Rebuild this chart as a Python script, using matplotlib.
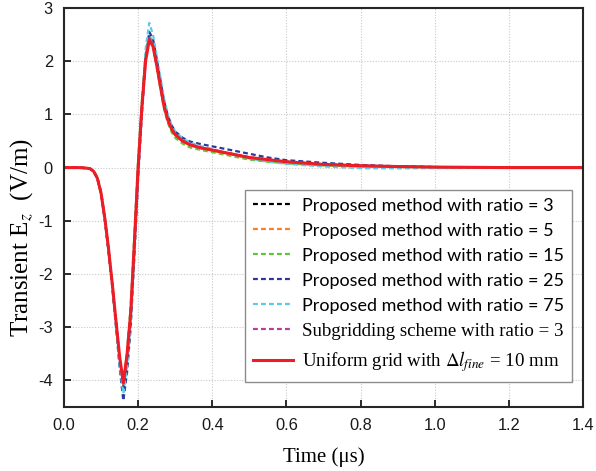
import matplotlib.pyplot as plt
from matplotlib.ticker import MultipleLocator

plt.rcParams['axes.unicode_minus'] = False
plt.rcParams['mathtext.fontset'] = 'stix'

# time axis (us) shared by all runs
t = [0.00, 0.02, 0.04, 0.06, 0.07, 0.08, 0.09, 0.10, 0.11, 0.12, 0.13, 0.14,
     0.15, 0.16, 0.17, 0.18, 0.19, 0.20, 0.21, 0.22, 0.23, 0.24, 0.25, 0.26,
     0.27, 0.28, 0.29, 0.30, 0.32, 0.34, 0.37, 0.40, 0.45, 0.50, 0.55, 0.60,
     0.70, 0.80, 0.90, 1.00, 1.10, 1.20, 1.30, 1.40]

# transient Ez (V/m)
ez_ratio3 = [0, 0, 0, -0.01, -0.02, -0.07, -0.20, -0.48, -0.96, -1.54, -2.19, -2.90,
             -3.60, -4.12, -3.58, -2.76, -1.42, 0.00, 1.14, 2.05, 2.46, 2.32, 1.95, 1.55,
             1.16, 0.90, 0.73, 0.62, 0.50, 0.43, 0.37, 0.33, 0.26, 0.19, 0.15, 0.11,
             0.06, 0.035, 0.02, 0.01, 0.005, 0, 0, 0]
ez_ratio5 = [0, 0, 0, -0.01, -0.02, -0.07, -0.20, -0.48, -0.96, -1.53, -2.18, -2.89,
             -3.58, -4.10, -3.56, -2.74, -1.40, 0.02, 1.15, 2.05, 2.45, 2.30, 1.94, 1.54,
             1.15, 0.89, 0.72, 0.61, 0.49, 0.42, 0.36, 0.32, 0.25, 0.18, 0.14, 0.10,
             0.05, 0.03, 0.015, 0.01, 0.005, 0, 0, 0]
ez_ratio15 = [0, 0, 0, -0.01, -0.02, -0.07, -0.20, -0.48, -0.96, -1.53, -2.18, -2.90,
              -3.60, -4.08, -3.45, -2.58, -1.20, 0.15, 1.25, 2.12, 2.50, 2.30, 1.90, 1.48,
              1.10, 0.84, 0.67, 0.56, 0.45, 0.38, 0.33, 0.29, 0.22, 0.15, 0.11, 0.08,
              0.04, 0.02, 0.01, 0.005, 0, 0, 0, 0]
ez_ratio25 = [0, 0, 0, -0.01, -0.02, -0.07, -0.20, -0.47, -0.97, -1.56, -2.22, -2.97,
              -3.76, -4.38, -3.86, -3.00, -1.65, -0.20, 1.00, 2.00, 2.55, 2.42, 2.05, 1.65,
              1.25, 0.98, 0.80, 0.68, 0.56, 0.49, 0.44, 0.40, 0.33, 0.26, 0.19, 0.14,
              0.09, 0.05, 0.025, 0.01, 0.005, 0, 0, 0]
ez_ratio75 = [0, 0, 0, -0.01, -0.02, -0.07, -0.20, -0.47, -0.97, -1.56, -2.21, -2.95,
              -3.70, -4.25, -3.76, -2.90, -1.55, -0.10, 1.10, 2.22, 2.72, 2.50, 2.10, 1.70,
              1.30, 1.00, 0.80, 0.68, 0.55, 0.47, 0.40, 0.35, 0.25, 0.17, 0.11, 0.07,
              0.02, -0.01, -0.015, -0.01, -0.005, 0, 0, 0]
ez_subgrid3 = [0, 0, 0, -0.01, -0.02, -0.07, -0.20, -0.48, -0.95, -1.53, -2.18, -2.88,
               -3.57, -4.08, -3.54, -2.73, -1.41, 0.00, 1.13, 2.02, 2.43, 2.30, 1.94, 1.54,
               1.15, 0.90, 0.73, 0.62, 0.50, 0.43, 0.37, 0.33, 0.26, 0.19, 0.15, 0.11,
               0.06, 0.035, 0.02, 0.01, 0.005, 0, 0, 0]
ez_uniform = [0, 0, 0, -0.01, -0.02, -0.07, -0.20, -0.48, -0.95, -1.52, -2.17, -2.87,
              -3.55, -4.05, -3.52, -2.72, -1.40, 0.00, 1.12, 2.00, 2.40, 2.28, 1.93, 1.53,
              1.15, 0.90, 0.73, 0.62, 0.50, 0.43, 0.37, 0.33, 0.26, 0.19, 0.15, 0.11,
              0.06, 0.035, 0.02, 0.01, 0.005, 0, 0, 0]

dashed_runs = [
    (ez_ratio3, '#000000', 'Proposed method with ratio = 3'),
    (ez_ratio5, '#ff7f27', 'Proposed method with ratio = 5'),
    (ez_ratio15, '#66c23a', 'Proposed method with ratio = 15'),
    (ez_ratio25, '#2b3a9b', 'Proposed method with ratio = 25'),
    (ez_ratio75, '#5ccbe8', 'Proposed method with ratio = 75'),
    (ez_subgrid3, '#b8409e', 'Subgridding scheme with ratio = 3'),
]
uniform_label = r'Uniform grid with $\Delta l_{fine}$ = 10 mm'

fig = plt.figure(figsize=(5.96, 4.71), dpi=100)
ax = fig.add_axes([64 / 596, 64 / 471, 519 / 596, 399 / 471])

for ez, col, lab in dashed_runs:
    ax.plot(t, ez, color=col, lw=1.6, linestyle=(0, (2.2, 1.4)), label=lab)
ax.plot(t, ez_uniform, color='#ee1c24', lw=2.2, label=uniform_label)

ax.set_xlim(0, 1.4)
ax.set_ylim(-4.5, 3)
ax.xaxis.set_major_locator(MultipleLocator(0.2))
ax.yaxis.set_major_locator(MultipleLocator(1))
ax.xaxis.set_major_formatter(plt.FormatStrFormatter('%.1f'))
ax.yaxis.set_major_formatter(plt.FormatStrFormatter('%d'))

ax.grid(True, linestyle=(0, (1, 1.5)), color='#c8c8c8', lw=0.8)
ax.set_axisbelow(True)
for sp in ax.spines.values():
    sp.set_linewidth(1.5)
    sp.set_color('#262626')
ax.tick_params(direction='in', length=5, width=1.3, top=False, right=False,
               pad=8, labelsize=11.8, colors='#1a1a1a')
for lab in ax.get_xticklabels() + ax.get_yticklabels():
    lab.set_fontfamily('Liberation Sans')

ax.set_xlabel('Time (μs)', fontsize=15, family='Liberation Serif')
ax.set_ylabel(r'Transient E$_z$  (V/m)', fontsize=18, family='Liberation Serif')
ax.xaxis.set_label_coords(0.5, -0.1)
ax.yaxis.set_label_coords(-0.056, 0.424)

leg = ax.legend(loc='lower right', bbox_to_anchor=(0.979, 0.063), borderaxespad=0,
                prop={'family': 'Lato', 'size': 13}, handlelength=2.2,
                handletextpad=0.5, labelspacing=0.5, borderpad=0.45,
                fancybox=False, framealpha=1)
leg.get_frame().set_edgecolor('#8c8c8c')
leg.get_frame().set_linewidth(1.0)
for txt in leg.get_texts()[5:]:
    txt.set_fontfamily('Liberation Serif')
    txt.set_fontsize(13.6)

fig.savefig('out.png', dpi=100)
